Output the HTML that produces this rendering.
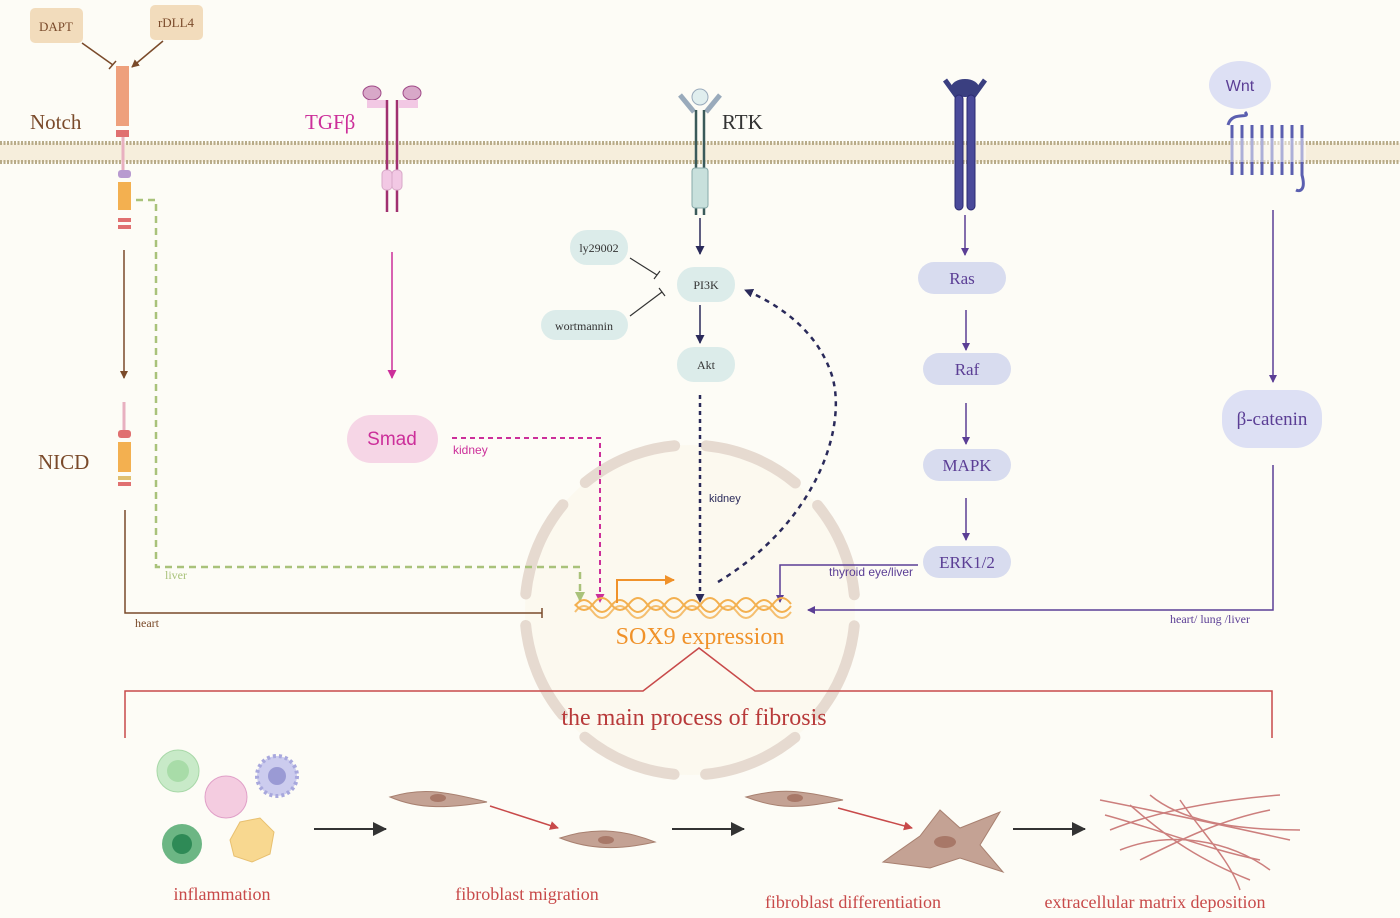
<!DOCTYPE html>
<html><head><meta charset="utf-8"><style>
html,body{margin:0;padding:0;background:#fdfcf6;}
svg{display:block;font-family:"Liberation Serif",serif;}
.sans{font-family:"Liberation Sans",sans-serif;}
</style></head><body>
<svg width="1400" height="918" viewBox="0 0 1400 918" xmlns="http://www.w3.org/2000/svg">
<defs>
<marker id="ab" markerUnits="userSpaceOnUse" markerWidth="8" markerHeight="8" refX="7" refY="4" orient="auto"><path d="M0,0 L8,4 L0,8z" fill="#7a4a2a"/></marker>
<marker id="ap" markerUnits="userSpaceOnUse" markerWidth="8" markerHeight="8" refX="7" refY="4" orient="auto"><path d="M0,0 L8,4 L0,8z" fill="#5b3e95"/></marker>
<marker id="an" markerUnits="userSpaceOnUse" markerWidth="9" markerHeight="9" refX="8" refY="4.5" orient="auto"><path d="M0,0 L9,4.5 L0,9z" fill="#2a2a5a"/></marker>
<marker id="am" markerUnits="userSpaceOnUse" markerWidth="9" markerHeight="9" refX="8" refY="4.5" orient="auto"><path d="M0,0 L9,4.5 L0,9z" fill="#cc2f9a"/></marker>
<marker id="ag" markerUnits="userSpaceOnUse" markerWidth="10" markerHeight="10" refX="9" refY="5" orient="auto"><path d="M0,0 L10,5 L0,10z" fill="#a9c27a"/></marker>
<marker id="ao" markerUnits="userSpaceOnUse" markerWidth="10" markerHeight="10" refX="9" refY="5" orient="auto"><path d="M0,0 L10,5 L0,10z" fill="#f0922a"/></marker>
<marker id="ak" markerUnits="userSpaceOnUse" markerWidth="14" markerHeight="14" refX="13" refY="7" orient="auto"><path d="M0,0 L14,7 L0,14z" fill="#333"/></marker>
<marker id="ar" markerUnits="userSpaceOnUse" markerWidth="9" markerHeight="9" refX="8" refY="4.5" orient="auto"><path d="M0,0 L9,4.5 L0,9z" fill="#c84a4a"/></marker>
</defs>
<rect width="1400" height="918" fill="#fdfcf6"/>
<!-- membrane -->
<rect x="0" y="143" width="1400" height="19" fill="#f6eedc"/>
<line x1="0" y1="143" x2="1400" y2="143" stroke="#b8ab88" stroke-width="4" stroke-dasharray="2 1.5"/>
<line x1="0" y1="162" x2="1400" y2="162" stroke="#b8ab88" stroke-width="4" stroke-dasharray="2 1.5"/>
<!-- nucleus -->
<circle cx="690" cy="610" r="165" fill="#fbf8ec" opacity="0.7"/>
<circle cx="690" cy="610" r="165" fill="none" stroke="#e6dad0" stroke-width="11" stroke-linecap="round" stroke-dasharray="98 31.6" transform="rotate(5.5 690 610)"/>
<!-- Notch -->
<rect x="30" y="8" width="53" height="35" rx="5" fill="#f2dcbc"/><text x="56" y="31" font-size="13" text-anchor="middle" fill="#7a4a2a">DAPT</text>
<rect x="150" y="5" width="53" height="35" rx="5" fill="#f2dcbc"/><text x="176" y="27" font-size="13" text-anchor="middle" fill="#7a4a2a">rDLL4</text>
<line x1="82" y1="43" x2="113" y2="65" stroke="#7a4a2a" stroke-width="1.5"/><line x1="109" y1="69" x2="116" y2="61" stroke="#7a4a2a" stroke-width="1.5"/>
<line x1="163" y1="41" x2="132" y2="67" stroke="#7a4a2a" stroke-width="1.5" marker-end="url(#ab)"/>
<text x="30" y="129" font-size="21" fill="#7a4a2a">Notch</text>
<rect x="116" y="66" width="13" height="60" fill="#eea07c"/>
<rect x="116" y="130" width="13" height="7" fill="#e07070"/>
<line x1="123" y1="137" x2="123" y2="170" stroke="#e8b0c0" stroke-width="3"/>
<rect x="118" y="170" width="13" height="8" rx="3" fill="#b89ad0"/>
<rect x="118" y="182" width="13" height="28" fill="#f3b050"/>
<rect x="118" y="218" width="13" height="4" fill="#e07070"/><rect x="118" y="225" width="13" height="4" fill="#e07070"/>
<line x1="124" y1="250" x2="124" y2="378" stroke="#7a4a2a" stroke-width="1.5" marker-end="url(#ab)"/>
<text x="38" y="469" font-size="21" fill="#7a4a2a">NICD</text>
<line x1="124" y1="402" x2="124" y2="430" stroke="#e8b0c0" stroke-width="3"/>
<rect x="118" y="430" width="13" height="8" rx="3" fill="#e07070"/>
<rect x="118" y="442" width="13" height="30" fill="#f3b050"/>
<rect x="118" y="476" width="13" height="4" fill="#e0c070"/><rect x="118" y="482" width="13" height="4" fill="#e07070"/>
<polyline points="125,510 125,613 542,613" fill="none" stroke="#7a4a2a" stroke-width="1.5"/><line x1="542" y1="608" x2="542" y2="618" stroke="#7a4a2a" stroke-width="1.5"/>
<text x="135" y="627" font-size="12" fill="#7a4a2a">heart</text>
<polyline points="136,200 156,200 156,567 580,567 580,601" fill="none" stroke="#a9c27a" stroke-width="2.5" stroke-dasharray="7 5" marker-end="url(#ag)"/>
<text x="165" y="579" font-size="12" fill="#a9c27a">liver</text>
<!-- TGFb -->
<text x="305" y="129" font-size="21" fill="#cc2f9a">TGFβ</text>
<ellipse cx="372" cy="93" rx="9" ry="7" fill="#d8a8c8" stroke="#a04a88"/><ellipse cx="412" cy="93" rx="9" ry="7" fill="#d8a8c8" stroke="#a04a88"/>
<path d="M367,100 H386 V108 H367z M399,100 H418 V108 H399z" fill="#f2c8e4"/>
<line x1="387" y1="100" x2="387" y2="212" stroke="#a03070" stroke-width="2.5"/><line x1="397" y1="100" x2="397" y2="212" stroke="#a03070" stroke-width="2.5"/>
<rect x="382" y="170" width="10" height="20" rx="4" fill="#f2c8e4" stroke="#d8a8c8"/><rect x="392" y="170" width="10" height="20" rx="4" fill="#f2c8e4" stroke="#d8a8c8"/>
<line x1="392" y1="252" x2="392" y2="378" stroke="#cc2f9a" stroke-width="1.5" marker-end="url(#am)"/>
<rect x="347" y="415" width="91" height="48" rx="24" fill="#f6d6e6"/><text x="392" y="445" class="sans" font-size="19" text-anchor="middle" fill="#cc2f9a">Smad</text>
<polyline points="452,438 600,438 600,602" fill="none" stroke="#cc2f9a" stroke-width="2" stroke-dasharray="5 4" marker-end="url(#am)"/>
<text x="453" y="454" class="sans" font-size="12" fill="#cc2f9a">kidney</text>
<!-- RTK -->
<text x="722" y="129" font-size="21" fill="#333">RTK</text>
<circle cx="700" cy="97" r="8" fill="#e0eeee" stroke="#9ab"/>
<path d="M680,95 L694,112 M720,95 L706,112" stroke="#9ab" stroke-width="5"/>
<line x1="696" y1="110" x2="696" y2="215" stroke="#3a5a5a" stroke-width="2.5"/><line x1="704" y1="110" x2="704" y2="215" stroke="#3a5a5a" stroke-width="2.5"/>
<rect x="692" y="168" width="16" height="40" rx="3" fill="#c8e0dc" stroke="#8aa"/>
<line x1="700" y1="218" x2="700" y2="254" stroke="#2a2a5a" stroke-width="1.5" marker-end="url(#an)"/>
<rect x="677" y="267" width="58" height="35" rx="17" fill="#dcecea"/><text x="706" y="289" font-size="12" text-anchor="middle" fill="#333">PI3K</text>
<rect x="570" y="230" width="58" height="35" rx="17" fill="#dcecea"/><text x="599" y="252" font-size="12" text-anchor="middle" fill="#333">ly29002</text>
<rect x="541" y="310" width="87" height="30" rx="15" fill="#dcecea"/><text x="584" y="330" font-size="12" text-anchor="middle" fill="#333">wortmannin</text>
<line x1="630" y1="258" x2="657" y2="275" stroke="#333" stroke-width="1.2"/><line x1="654" y1="279" x2="660" y2="271" stroke="#333" stroke-width="1.2"/>
<line x1="630" y1="316" x2="662" y2="292" stroke="#333" stroke-width="1.2"/><line x1="659" y1="288" x2="665" y2="296" stroke="#333" stroke-width="1.2"/>
<line x1="700" y1="305" x2="700" y2="343" stroke="#2a2a5a" stroke-width="1.5" marker-end="url(#an)"/>
<rect x="677" y="347" width="58" height="35" rx="17" fill="#dcecea"/><text x="706" y="369" font-size="12" text-anchor="middle" fill="#333">Akt</text>
<line x1="700" y1="395" x2="700" y2="602" stroke="#2a2a5a" stroke-width="2.5" stroke-dasharray="4 4" marker-end="url(#an)"/>
<text x="709" y="502" class="sans" font-size="11" fill="#2a2a5a">kidney</text>
<path d="M718,582 C820,520 850,420 830,370 C815,330 780,305 745,290" fill="none" stroke="#2a2a5a" stroke-width="2.5" stroke-dasharray="5 5" marker-end="url(#an)"/>
<!-- Ras receptor -->
<ellipse cx="965" cy="88" rx="14" ry="9" fill="#3a3f80"/>
<path d="M945,80 L958,98 M985,80 L972,98" stroke="#3a3f80" stroke-width="5"/>
<rect x="955" y="95" width="8" height="115" rx="4" fill="#4a4a9a" stroke="#2a2a70"/><rect x="967" y="95" width="8" height="115" rx="4" fill="#4a4a9a" stroke="#2a2a70"/>
<line x1="965" y1="215" x2="965" y2="255" stroke="#5b3e95" stroke-width="1.5" marker-end="url(#ap)"/>
<rect x="918" y="262" width="88" height="32" rx="16" fill="#d8dcef"/><text x="962" y="284" font-size="17" text-anchor="middle" fill="#5b3e95">Ras</text>
<line x1="966" y1="310" x2="966" y2="350" stroke="#5b3e95" stroke-width="1.5" marker-end="url(#ap)"/>
<rect x="923" y="353" width="88" height="32" rx="16" fill="#d8dcef"/><text x="967" y="375" font-size="17" text-anchor="middle" fill="#5b3e95">Raf</text>
<line x1="966" y1="403" x2="966" y2="444" stroke="#5b3e95" stroke-width="1.5" marker-end="url(#ap)"/>
<rect x="923" y="449" width="88" height="32" rx="16" fill="#d8dcef"/><text x="967" y="471" font-size="17" text-anchor="middle" fill="#5b3e95">MAPK</text>
<line x1="966" y1="498" x2="966" y2="540" stroke="#5b3e95" stroke-width="1.5" marker-end="url(#ap)"/>
<rect x="923" y="546" width="88" height="32" rx="16" fill="#d8dcef"/><text x="967" y="568" font-size="17" text-anchor="middle" fill="#5b3e95">ERK1/2</text>
<polyline points="918,565 780,565 780,602" fill="none" stroke="#5b3e95" stroke-width="1.5" marker-end="url(#ap)"/>
<text x="829" y="576" class="sans" font-size="12" fill="#5b3e95">thyroid eye/liver</text>
<!-- Wnt -->
<ellipse cx="1240" cy="85" rx="31" ry="24" fill="#dde0f4"/><text x="1240" y="91" class="sans" font-size="16" text-anchor="middle" fill="#5b3e95">Wnt</text>
<path d="M1228,125 C1232,110 1252,120 1245,112 M1232,125 v50 M1242,125 v50 M1252,125 v50 M1262,125 v50 M1272,125 v50 M1282,125 v50 M1292,125 v50 M1302,125 v50 C1306,190 1300,192 1296,190" fill="none" stroke="#5b5fb0" stroke-width="3"/>
<rect x="1230" y="138" width="76" height="24" fill="#fff" opacity="0.5"/>
<line x1="1273" y1="210" x2="1273" y2="382" stroke="#5b3e95" stroke-width="1.5" marker-end="url(#ap)"/>
<rect x="1222" y="390" width="100" height="58" rx="26" fill="#dde0f4"/><text x="1272" y="425" font-size="19" text-anchor="middle" fill="#5b3e95">β-catenin</text>
<polyline points="1273,465 1273,610 808,610" fill="none" stroke="#5b3e95" stroke-width="1.5" marker-end="url(#ap)"/>
<text x="1170" y="623" font-size="12" fill="#5b3e95">heart/ lung /liver</text>
<!-- DNA -->
<g stroke="#f3b050" stroke-width="2" fill="none">
<path d="M575,606 q9,-12 18,0 t18,0 t18,0 t18,0 t18,0 t18,0 t18,0 t18,0 t18,0 t18,0 t18,0 t18,0"/>
<path d="M575,612 q9,-12 18,0 t18,0 t18,0 t18,0 t18,0 t18,0 t18,0 t18,0 t18,0 t18,0 t18,0 t18,0" opacity="0.8"/>
<path d="M575,604 q9,12 18,0 t18,0 t18,0 t18,0 t18,0 t18,0 t18,0 t18,0 t18,0 t18,0 t18,0 t18,0"/>
</g>
<polyline points="617,603 617,580 674,580" fill="none" stroke="#f0922a" stroke-width="2" marker-end="url(#ao)"/>
<text x="700" y="644" font-size="24" text-anchor="middle" fill="#f0922a">SOX9 expression</text>
<!-- fibrosis bracket -->
<polyline points="125,738 125,691 643,691 699,648 755,691 1272,691 1272,738" fill="none" stroke="#c84a4a" stroke-width="1.5"/>
<text x="694" y="725" font-size="24" text-anchor="middle" fill="#b83a3a">the main process of fibrosis</text>
<!-- cells -->
<circle cx="178" cy="771" r="21" fill="#c8eac8" stroke="#a8d8a8"/><circle cx="178" cy="771" r="11" fill="#a8dca8"/>
<circle cx="182" cy="844" r="20" fill="#5cae78" opacity="0.9"/><circle cx="182" cy="844" r="10" fill="#2e8a56"/>
<circle cx="226" cy="797" r="21" fill="#f4cce0" stroke="#e0a0c8"/>
<circle cx="277" cy="776" r="20" fill="#ccccee" stroke="#a8a8dd" stroke-width="4" stroke-dasharray="3 3"/><circle cx="277" cy="776" r="9" fill="#9a9ad4"/>
<path d="M230,840 l10,-18 l20,-4 l14,14 l-4,22 l-18,8 l-18,-6z" fill="#f8d890" stroke="#e8c070"/>
<text x="222" y="900" font-size="18" text-anchor="middle" fill="#c84a4a">inflammation</text>
<line x1="314" y1="829" x2="386" y2="829" stroke="#333" stroke-width="2" marker-end="url(#ak)"/>
<path d="M390,797 C420,788 440,790 487,802 C450,808 420,810 390,797z" fill="#c4a294" stroke="#a88070"/><ellipse cx="438" cy="798" rx="8" ry="4" fill="#a87868"/>
<line x1="490" y1="806" x2="558" y2="828" stroke="#c84a4a" stroke-width="1.5" marker-end="url(#ar)"/>
<path d="M560,838 C590,828 620,828 655,842 C620,850 590,850 560,838z" fill="#c4a294" stroke="#a88070"/><ellipse cx="606" cy="840" rx="8" ry="4" fill="#a87868"/>
<text x="527" y="900" font-size="18" text-anchor="middle" fill="#c84a4a">fibroblast migration</text>
<line x1="672" y1="829" x2="744" y2="829" stroke="#333" stroke-width="2" marker-end="url(#ak)"/>
<path d="M746,797 C780,788 800,790 843,800 C800,808 780,810 746,797z" fill="#c4a294" stroke="#a88070"/><ellipse cx="795" cy="798" rx="8" ry="4" fill="#a87868"/>
<line x1="838" y1="808" x2="912" y2="828" stroke="#c84a4a" stroke-width="1.5" marker-end="url(#ar)"/>
<path d="M883,862 L920,836 L940,810 L960,828 L1000,812 L980,845 L1003,872 L960,858 L930,868z" fill="#c4a294" stroke="#a88070"/><ellipse cx="945" cy="842" rx="11" ry="6" fill="#a87868"/>
<text x="853" y="908" font-size="18" text-anchor="middle" fill="#c84a4a">fibroblast differentiation</text>
<line x1="1013" y1="829" x2="1085" y2="829" stroke="#333" stroke-width="2" marker-end="url(#ak)"/>
<g stroke="#c06060" stroke-width="1.5" fill="none" opacity="0.8">
<path d="M1100,800 C1150,810 1200,820 1290,840"/><path d="M1110,830 C1160,810 1220,800 1280,795"/><path d="M1120,850 C1170,830 1230,840 1270,870"/><path d="M1130,805 C1170,840 1200,860 1250,880"/><path d="M1150,795 C1180,820 1230,830 1300,830"/><path d="M1140,860 C1180,840 1220,820 1270,810"/><path d="M1180,800 C1200,830 1230,860 1240,890"/><path d="M1105,815 C1160,830 1210,850 1260,860"/>
</g>
<text x="1155" y="908" font-size="18" text-anchor="middle" fill="#c84a4a">extracellular matrix deposition</text>
</svg>
</body></html>
